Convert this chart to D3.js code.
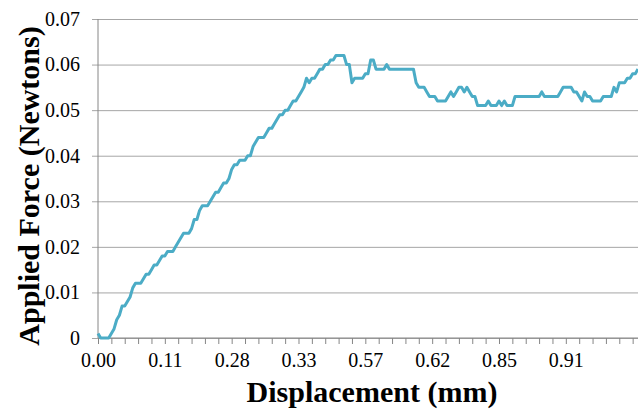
<!DOCTYPE html>
<html>
<head>
<meta charset="utf-8">
<script src="https://cdn.jsdelivr.net/npm/d3@7"></script>
<style>
	body { margin: 0; background: #fff; }
</style>
</head>
<body>
<div id="plot"></div>
<script>
	// force readings in thousandths of a Newton, one per sample
	const force = [
		1, 0, 0, 0, 0, 1, 2, 4, 5, 7,
		7, 8, 9, 11, 12, 12, 12, 13, 14, 14,
		15, 16, 16, 17, 18, 18, 19, 19, 19, 20,
		21, 22, 23, 23, 23, 24, 26, 26, 28, 29,
		29, 29, 30, 31, 32, 32, 33, 34, 34, 35,
		37, 38, 38, 39, 39, 39, 40, 40, 42, 43,
		44, 44, 44, 45, 46, 46, 47, 48, 49, 49,
		50, 50, 51, 52, 52, 53, 54, 55, 57, 56,
		57, 57, 58, 59, 59, 60, 60, 61, 61, 62,
		62, 62, 62, 60, 60, 56, 57, 57, 57, 57,
		58, 58, 61, 61, 59, 59, 59, 59, 60, 59,
		59, 59, 59, 59, 59, 59, 59, 59, 59, 56,
		55, 55, 55, 54, 53, 53, 53, 52, 52, 52,
		52, 53, 54, 53, 54, 55, 55, 54, 55, 54,
		53, 53, 51, 51, 51, 51, 52, 51, 51, 51,
		52, 51, 52, 51, 51, 51, 53, 53, 53, 53,
		53, 53, 53, 53, 53, 53, 54, 53, 53, 53,
		53, 53, 53, 54, 55, 55, 55, 55, 54, 54,
		53, 52, 54, 53, 53, 52, 52, 52, 52, 53,
		53, 53, 53, 55, 54, 56, 56, 56, 57, 57,
		58, 58, 59
	].map(v => v / 1000);

	// displacement labels shown every 25 samples
	const dispLabels = ["0.00", "0.11", "0.28", "0.33", "0.57", "0.62", "0.85", "0.91"];
	const yTicks = [0, 0.01, 0.02, 0.03, 0.04, 0.05, 0.06, 0.07];

	const w = 638;
	const h = 410;
	const margin = {top: 19, right: 0, bottom: 72, left: 98};
	const innerWidth = w - margin.left - margin.right;
	const innerHeight = h - margin.top - margin.bottom;
	const serif = "'Liberation Serif', 'Times New Roman', serif";

	const samples = d3.range(force.length);

	const xScale = d3.scalePoint()
		.domain(samples)
		.range([0, innerWidth]);

	const yScale = d3.scaleLinear()
		.domain([0, 0.07])
		.range([innerHeight, 0]);

	const svg = d3.select("div#plot")
		.append("svg")
		.attr("width", w)
		.attr("height", h);

	const g = svg.append("g")
		.attr("transform", `translate(${margin.left}, ${margin.top})`);

	const styleTicks = s => s.selectAll(".tick text")
		.style("font-family", serif)
		.style("font-size", "20px")
		.attr("fill", "#000");

	// gridlines + y axis
	const yAxis = d3.axisLeft(yScale)
		.tickValues(yTicks)
		.tickSize(-innerWidth - 6)
		.tickPadding(12)
		.tickFormat(d => d === 0 ? "0" : d3.format(".2f")(d));

	g.append("g")
		.attr("class", "yAxis")
		.attr("transform", "translate(-6, 0)")
		.call(yAxis)
		.call(styleTicks)
		.call(s => s.select(".domain").remove())
		.call(s => s.selectAll(".tick line").attr("stroke", "#a6a6a6").attr("stroke-width", 1));

	g.append("line")
		.attr("x1", 0).attr("x2", 0)
		.attr("y1", 0).attr("y2", innerHeight)
		.attr("stroke", "#868686");

	// x axis: tick every 5 samples, label every 25
	const xAxis = d3.axisBottom(xScale)
		.tickValues(samples.filter(i => i % 5 === 0))
		.tickSize(6)
		.tickPadding(9)
		.tickFormat(i => i % 25 === 0 ? dispLabels[i / 25] : "");

	g.append("g")
		.attr("class", "xAxis")
		.attr("transform", `translate(0, ${innerHeight})`)
		.call(xAxis)
		.call(styleTicks)
		.call(s => s.select(".domain").attr("stroke", "#868686").attr("d", `M0,0H${innerWidth}`))
		.call(s => s.selectAll(".tick line").attr("stroke", "#868686"))
		.call(s => s.selectAll(".tick text").filter(function() { return this.textContent === ""; }).remove());

	// force curve
	const line = d3.line()
		.x((d, i) => xScale(i))
		.y(d => yScale(d));

	g.append("path")
		.datum(force)
		.attr("fill", "none")
		.attr("stroke", "#4bacc6")
		.attr("stroke-width", 3)
		.attr("stroke-linejoin", "round")
		.attr("d", line);

	// titles
	svg.append("text")
		.style("font-family", serif)
		.style("font-size", "30px")
		.style("font-weight", "bold")
		.attr("x", 372)
		.attr("y", 402)
		.attr("text-anchor", "middle")
		.text("Displacement (mm)");

	svg.append("text")
		.style("font-family", serif)
		.style("font-size", "30px")
		.style("font-weight", "bold")
		.attr("transform", "translate(39, 186) rotate(-90)")
		.attr("text-anchor", "middle")
		.text("Applied Force (Newtons)");
</script>
</body>
</html>
